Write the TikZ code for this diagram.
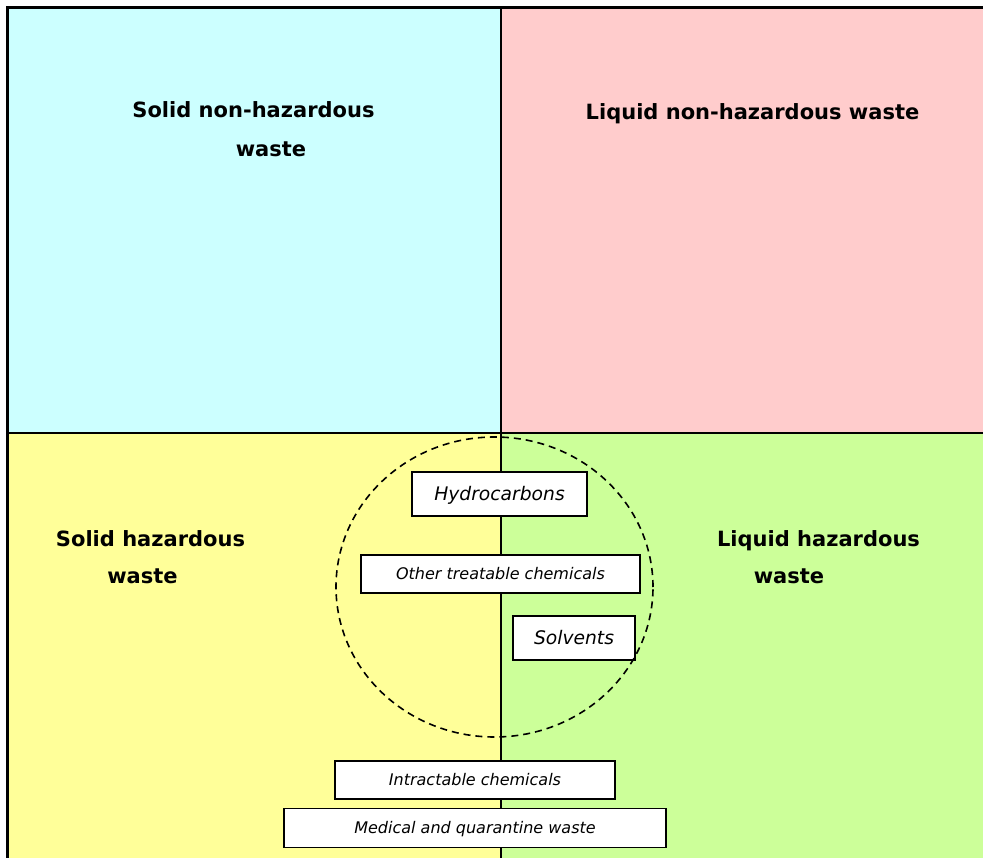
\documentclass[tikz,border=0pt]{standalone}
\usepackage{fontspec}
\setmainfont{DejaVu Sans}
\definecolor{solidok}{HTML}{CCFFFF}
\definecolor{liquidok}{HTML}{FFCCCC}
\definecolor{solidhaz}{HTML}{FFFF99}
\definecolor{liquidhaz}{HTML}{CCFF99}
\tikzset{
  quadlabel/.style={font=\fontsize{21}{25}\selectfont\bfseries, anchor=base, inner sep=0pt},
  wastebox/.style={draw=black, line width=1.8pt, fill=white, inner sep=0pt, text depth=0pt},
  bigtext/.style={font=\fontsize{18.7}{22}\selectfont\itshape, text height=13.6pt},
  smalltext/.style={font=\fontsize{16}{19}\selectfont\itshape, text height=11.7pt},
}
\begin{document}
\begin{tikzpicture}[x=1pt,y=-1pt]
\useasboundingbox (0,0) rectangle (983,858);

% four quadrants
\fill[solidok]   (7,8)   rectangle (501,433);
\fill[liquidok]  (501,8) rectangle (983,433);
\fill[solidhaz]  (7,433) rectangle (501,858);
\fill[liquidhaz] (501,433) rectangle (983,858);

% frame and dividers
\draw[line width=3pt] (7,858) -- (7,8) -- (983,8);
\draw[line width=2.2pt] (501,8) -- (501,858);
\draw[line width=2.2pt] (7,433) -- (983,433);

% quadrant headings
\node[quadlabel] (snh1) at (253.5,118) {Solid non-hazardous};
\node[quadlabel] (snh2) at (271,157) {waste};
\node[quadlabel] (lnh)  at (752.5,120) {Liquid non-hazardous waste};
\node[quadlabel] (sh1)  at (150.5,546) {Solid hazardous};
\node[quadlabel] (sh2)  at (142.5,583) {waste};
\node[quadlabel] (lh1)  at (818.5,546) {Liquid hazardous};
\node[quadlabel] (lh2)  at (789,583) {waste};

% waste streams
\node[wastebox, bigtext, minimum width=175pt, minimum height=44pt] (hyd) at (499.5,494) {Hydrocarbons};
\node[wastebox, smalltext, minimum width=279pt, minimum height=38pt] (otc) at (500.5,574) {Other treatable chemicals};
\node[wastebox, bigtext, minimum width=122pt, minimum height=44pt] (sol) at (574,638) {Solvents};
\node[wastebox, smalltext, minimum width=280pt, minimum height=38pt] (itc) at (475,780) {Intractable chemicals};
\node[wastebox, smalltext, minimum width=382pt, minimum height=39pt] (med) at (475,828) {Medical and quarantine waste};

% treatable group
\draw[line width=1.6pt, dash pattern=on 7pt off 5pt] (494.5,587) ellipse [x radius=158.5pt, y radius=150pt];
\end{tikzpicture}
\end{document}
